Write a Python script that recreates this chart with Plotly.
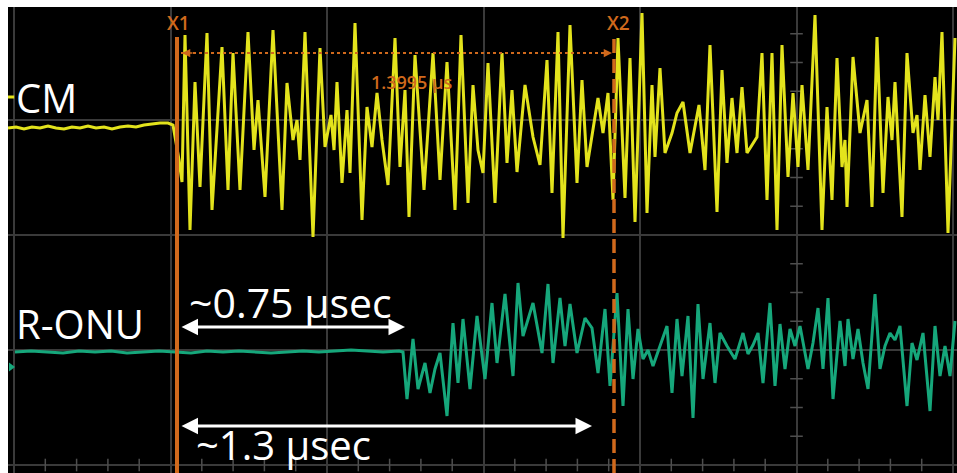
import plotly.graph_objects as go

# ---------------- data (time in samples, 3.2 ns/sample, 0 = cursor X1; amplitude in ADC counts) -------------
CM_T = [-169, -161, -153, -145, -137, -129, -121, -113, -105, -97, -89, -81, -73, -65, -57, -49, -41, -33, -25, -17, -9, -4,
        2, 5, 8, 13, 18, 23, 30, 35, 45, 51, 56, 63, 71, 77, 81, 88, 96, 105, 110, 116, 120, 123, 128, 136, 143, 148,
        154, 157, 160, 165, 170, 173, 178, 185, 190, 195, 200, 205, 211, 218, 223, 228, 232, 238, 247, 256, 263, 270,
        278, 284, 291, 296, 301, 306, 311, 318, 325, 330, 335, 340, 348, 356, 363, 370, 375, 381, 386, 393, 400, 405,
        410, 421, 426, 431, 436, 441, 448, 453, 458, 465, 470, 475, 478, 483, 488, 495, 500, 506, 513, 522, 528, 533,
        540, 545, 550, 555, 560, 565, 570, 580, 585, 590, 595, 600, 605, 611, 616, 621, 625, 631, 638, 645, 650, 655,
        660, 665, 668, 670, 676, 683, 690, 695, 700, 706, 711, 715, 718, 725, 730, 736, 740, 743, 748, 753, 758, 761,
        765, 771, 778]
CM_V = [0, 1, -1, 1, 0, 2, 0, -1, 1, 0, 2, 0, 1, -1, 1, 2, 1, 3, 4, 5, 5, 3,
        -32, -54, 93, -102, 46, -59, 95, -82, 81, -62, 75, -62, 96, -22, 28, -69, 98, -82, 45, -12, 8, -32, 96, -109, 80, -19,
        13, -22, 46, -55, 18, -45, 105, -92, 21, -19, 35, -12, -57, 90, -39, 38, -89, 73, -62, 75, -52, 66,
        -82, 93, -75, 43, -22, -45, 65, -75, 75, -35, 38, -44, 43, -9, -37, 68, -65, 96, -110, 103, -55, 48,
        -39, 30, -5, 35, -72, 90, -70, 70, -94, 115, -85, 43, -29, 60, -25, -5, 15, 26, -25, 23, -42, 83,
        -84, 58, -35, 30, -25, 41, -25, -9, 75, -72, 75, -102, 83, -49, 35, -39, 43, -42, 113, -102, 21, -72,
        70, -39, -12, -79, 71, -5, 28, -79, 91, -65, 31, -12, 46, -89, 75, -5, 13, -42, 33, -29, 51, 8,
        96, -105, 90]

RONU_T = [-162, -146, -130, -114, -98, -82, -66, -50, -34, -18, -2, 14, 30, 46, 62, 78, 94, 110, 126, 142, 158, 174,
          190, 206, 222,
          226, 230, 236, 241, 248, 253, 258, 263, 270, 276, 281, 286, 293, 300, 308, 315, 320, 328, 336, 341, 346, 356,
          365, 371, 376, 383, 388, 393, 400, 408, 415, 421, 428, 433, 440, 446, 451, 456, 461, 466, 471, 476, 483, 490,
          495, 500, 505, 511, 516, 521, 526, 533, 538, 543, 550, 558, 566, 571, 576, 581, 586, 593, 598, 603, 608, 613,
          618, 623, 631, 636, 641, 646, 651, 656, 663, 668, 671, 676, 681, 686, 691, 698, 703, 708, 713, 718, 723, 730,
          735, 740, 746, 753, 758, 763, 768, 773, 778]
RONU_V = [0, 1, 0, -1, 1, 0, 1, -1, 0, 1, 0, -1, 1, 0, 1, 0, -1, 0, 1, 0, 1, 2,
          1, 0, 1,
          0, -47, 13, -37, -11, -41, -17, -1, -64, 29, -31, 33, -37, 36, -27, 49, -11, 58, -24, 69, 16, 49,
          -1, 68, -11, 54, 6, 48, -1, 34, 24, -21, 43, -34, 59, -54, 43, -27, 23, -7, 2, -14, 6, 26,
          -41, 33, -24, 36, -66, 48, -27, 29, -31, 19, 6, -7, 19, -2, 7, 19, -31, 49, -34, 28, -17, 23,
          6, 26, -17, 9, 44, -17, 54, -47, 31, -14, 33, -7, 23, -11, -37, 58, -17, 6, 19, 12, 26, -54,
          9, -8, 19, -59, 26, -24, 6, -24, 31]

CM_OFFSET = 107      # channel position (counts)
RONU_OFFSET = -117

X1_T = 0
X2_T = 437
DELTA_LABEL = "1.3995 µs"
DELTA_Y = 182

MEAS1_END = 228
MEAS2_END = 415
MEAS1_Y = -92
MEAS2_Y = -191

# screen grid
X_RANGE = [-169, 780]
Y_RANGE = [-238, 228]
X_GRID0, X_DIV = -163, 156.5
Y_DIV = 115
TICK_COL_T = X_GRID0 + 5 * X_DIV
BOTTOM_Y = -230

YELLOW = "#e3e31c"
TEAL = "#16a77b"
ORANGE = "#d0691c"
GRID = "#3a3a3a"

fig = go.Figure()

# minor tick marks on the graticule
vt_y = [k * Y_DIV / 4 for k in range(-8, 8) if k % 4 != 0]
fig.add_trace(go.Scatter(x=[TICK_COL_T] * len(vt_y), y=vt_y, mode="markers",
                         marker=dict(symbol="line-ew", size=9, line=dict(color="#4e4e4e", width=1.5)),
                         hoverinfo="skip", showlegend=False))
bt_x = [X_GRID0 + k * X_DIV / 5 for k in range(0, 31) if k % 5 != 0]
fig.add_trace(go.Scatter(x=bt_x, y=[BOTTOM_Y] * len(bt_x), mode="markers",
                         marker=dict(symbol="line-ns", size=9, line=dict(color="#4e4e4e", width=1.5)),
                         hoverinfo="skip", showlegend=False))

fig.add_trace(go.Scatter(x=CM_T, y=[CM_OFFSET + v for v in CM_V], mode="lines",
                         line=dict(color=YELLOW, width=3), hoverinfo="skip", showlegend=False))
fig.add_trace(go.Scatter(x=RONU_T, y=[RONU_OFFSET + v for v in RONU_V], mode="lines",
                         line=dict(color=TEAL, width=3), hoverinfo="skip", showlegend=False))

# channel markers at left edge
fig.add_trace(go.Scatter(x=[X_RANGE[0] + 2], y=[CM_OFFSET + 31], mode="markers",
                         marker=dict(symbol="line-ew", size=6, line=dict(color=YELLOW, width=3)),
                         hoverinfo="skip", showlegend=False))
fig.add_trace(go.Scatter(x=[X_RANGE[0] + 3], y=[RONU_OFFSET - 15], mode="markers",
                         marker=dict(symbol="triangle-right", size=8, color=TEAL),
                         hoverinfo="skip", showlegend=False))

# cursors
fig.add_shape(type="line", xref="x", yref="y", x0=X1_T, x1=X1_T, y0=Y_RANGE[0], y1=198,
              line=dict(color=ORANGE, width=4), layer="above")
fig.add_shape(type="line", xref="x", yref="y", x0=X2_T, x1=X2_T, y0=Y_RANGE[0], y1=196,
              line=dict(color=ORANGE, width=3.5, dash="14px,6px"), layer="above")
fig.add_shape(type="line", xref="x", yref="y", x0=X1_T + 4, x1=X2_T - 3, y0=DELTA_Y, y1=DELTA_Y,
              line=dict(color=ORANGE, width=2, dash="dot"), layer="above")

ann = []
for tip, tail in [(X2_T - 2, X2_T - 14), (X1_T + 5, X1_T + 17)]:
    ann.append(dict(x=tip, y=DELTA_Y, ax=tail, ay=DELTA_Y, xref="x", yref="y", axref="x", ayref="y",
                    text="", showarrow=True, arrowhead=2, arrowsize=1.1, arrowwidth=1.5, arrowcolor=ORANGE))

for t, lab in [(X1_T + 1, "X1"), (X2_T + 4, "X2")]:
    ann.append(dict(x=t, y=212, xref="x", yref="y", text=lab, showarrow=False,
                    font=dict(family="Open Sans", size=19, color=ORANGE, weight=600)))
ann.append(dict(x=235, y=153, xref="x", yref="y", text=DELTA_LABEL, showarrow=False,
                font=dict(family="Open Sans", size=18, color=ORANGE, weight=600)))

# white measurement arrows
for end, yy in [(MEAS1_END, MEAS1_Y), (MEAS2_END, MEAS2_Y)]:
    ann.append(dict(x=end, y=yy, ax=X1_T + 3, ay=yy, xref="x", yref="y", axref="x", ayref="y",
                    text="", showarrow=True, arrowhead=2, startarrowhead=2, arrowside="end+start",
                    arrowsize=1.1, startarrowsize=1.1, arrowwidth=3, arrowcolor="white"))

white = dict(family="Open Sans", size=40, color="white")
ann.append(dict(x=-163, y=138, xref="x", yref="y", text="CM", showarrow=False, xanchor="left", font=white))
ann.append(dict(x=-163, y=-88, xref="x", yref="y", text="R-ONU", showarrow=False, xanchor="left", font=white))
ann.append(dict(x=10, y=-67, xref="x", yref="y", text="~0.75 µsec", showarrow=False, xanchor="left",
                font=dict(family="Open Sans", size=41, color="white")))
ann.append(dict(x=17, y=-209, xref="x", yref="y", text="~1.3 µsec", showarrow=False, xanchor="left", font=white))

fig.update_layout(
    width=957, height=473,
    margin=dict(l=8, r=0, t=7, b=0),
    paper_bgcolor="white", plot_bgcolor="black",
    showlegend=False,
    annotations=ann,
    xaxis=dict(range=X_RANGE, showgrid=True, gridcolor=GRID, gridwidth=1.5, tick0=X_GRID0, dtick=X_DIV,
               zeroline=False, showticklabels=False, ticks="", showline=False, fixedrange=True),
    yaxis=dict(range=Y_RANGE, showgrid=True, gridcolor=GRID, gridwidth=1.5, tick0=0, dtick=Y_DIV,
               zeroline=False, showticklabels=False, ticks="", showline=False, fixedrange=True),
)

fig.write_html("out.html", config={"displayModeBar": False})
